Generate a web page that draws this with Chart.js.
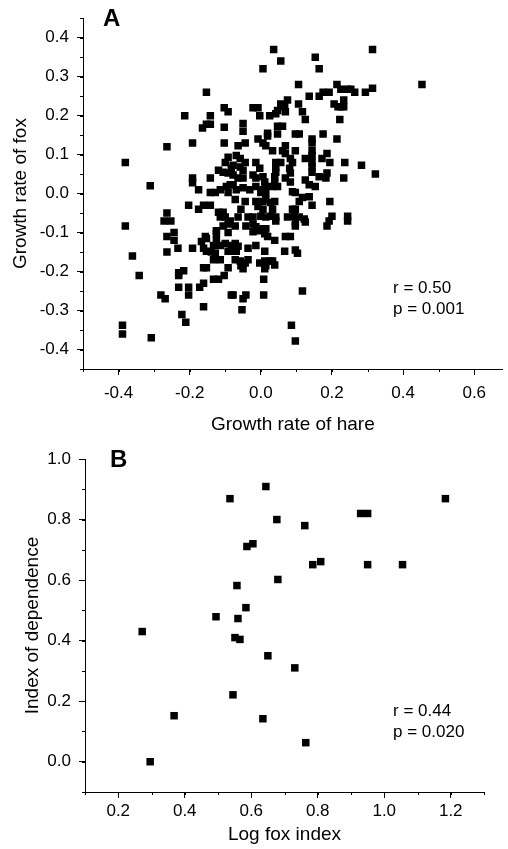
<!DOCTYPE html>
<html>
<head>
<meta charset="utf-8">
<script src="https://cdn.jsdelivr.net/npm/chart.js@4.4.1/dist/chart.umd.min.js"></script>
<style>
  html, body { margin: 0; padding: 0; background: #fff; }
  #wrap { position: relative; width: 508px; height: 849px; }
  canvas { position: absolute; left: 0; }
  #chartA { top: 0; }
  #chartB { top: 440px; }
</style>
</head>
<body>
<div id="wrap">
  <canvas id="chartA" width="508" height="440"></canvas>
  <canvas id="chartB" width="508" height="409"></canvas>
</div>
<script>
// Panel A: growth rate of hare (x) against growth rate of fox (y), [hare, fox]
const hareFoxPoints = [
  [-0.153, 0.260], [-0.214, 0.200], [-0.142, 0.200], [-0.103, 0.220], [-0.092, 0.210],
  [-0.164, 0.168], [-0.153, 0.178], [-0.142, 0.178], [-0.103, 0.170], [-0.264, 0.120],
  [-0.192, 0.130], [-0.103, 0.130], [-0.381, 0.080], [-0.311, 0.020], [-0.192, 0.040],
  [-0.192, 0.028], [-0.142, 0.040], [-0.175, 0.010], [-0.119, 0.060], [-0.106, 0.055],
  [-0.092, 0.053], [-0.083, 0.065], [-0.092, 0.093], [-0.100, 0.080], [-0.142, 0.003],
  [-0.128, 0.003], [-0.114, 0.010], [-0.097, 0.018], [-0.086, 0.023], [-0.092, 0.003],
  [-0.203, -0.030], [-0.175, -0.040], [-0.161, -0.030], [-0.142, -0.030], [-0.119, -0.048],
  [-0.106, -0.048], [-0.114, -0.060], [-0.100, -0.060], [-0.086, -0.070], [-0.264, -0.050],
  [-0.272, -0.070], [-0.253, -0.070], [-0.381, -0.083], [-0.106, -0.083], [-0.092, -0.078],
  [-0.125, -0.095], [-0.125, -0.103], [-0.092, -0.100], [-0.244, -0.100], [-0.264, -0.110],
  [-0.244, -0.120], [-0.156, -0.110], [-0.167, -0.123], [-0.153, -0.115], [-0.125, -0.120],
  [-0.133, -0.133], [-0.114, -0.133], [-0.100, -0.128], [-0.083, -0.133], [-0.092, -0.148],
  [-0.233, -0.140], [-0.192, -0.140], [-0.161, -0.140], [-0.153, -0.148], [-0.139, -0.150],
  [-0.128, -0.153], [-0.264, -0.150], [-0.133, -0.170], [-0.114, -0.170], [-0.361, -0.160],
  [-0.161, -0.190], [-0.153, -0.190], [-0.092, -0.190], [-0.231, -0.203], [-0.217, -0.198],
  [-0.231, -0.210], [-0.342, -0.210], [-0.133, -0.220], [-0.119, -0.220], [-0.103, -0.210],
  [-0.231, -0.240], [-0.203, -0.240], [-0.203, -0.260], [-0.172, -0.240], [-0.161, -0.230],
  [-0.281, -0.260], [-0.269, -0.270], [-0.083, -0.260], [-0.161, -0.290], [-0.222, -0.310],
  [-0.211, -0.330], [-0.389, -0.338], [-0.389, -0.360], [-0.308, -0.370],
  [0.036, 0.370], [0.056, 0.340], [0.006, 0.320], [0.153, 0.350], [0.164, 0.320],
  [0.106, 0.280], [0.136, 0.250], [0.164, 0.250], [0.075, 0.240], [0.056, 0.230],
  [0.067, 0.223], [0.106, 0.230], [-0.022, 0.220], [-0.008, 0.220], [-0.003, 0.200],
  [0.025, 0.200], [0.042, 0.205], [0.047, 0.213], [0.069, 0.210], [0.117, 0.210],
  [0.125, 0.190], [-0.050, 0.180], [-0.050, 0.160], [0.019, 0.155], [0.019, 0.148],
  [0.047, 0.173], [0.061, 0.173], [0.047, 0.153], [0.097, 0.153], [0.108, 0.153],
  [0.144, 0.140], [0.144, 0.130], [0.175, 0.153], [0.214, 0.140], [-0.064, 0.123],
  [-0.044, 0.130], [-0.008, 0.140], [0.006, 0.130], [0.014, 0.123], [0.033, 0.110],
  [0.061, 0.110], [0.069, 0.123], [0.097, 0.110], [0.144, 0.110], [0.144, 0.098],
  [-0.069, 0.098], [-0.058, 0.090], [-0.044, 0.080], [-0.014, 0.080], [0.042, 0.080],
  [0.056, 0.080], [0.069, 0.103], [0.083, 0.090], [0.089, 0.080], [0.125, 0.090],
  [0.144, 0.080], [0.172, 0.090], [0.186, 0.103], [0.194, 0.080], [0.236, 0.080],
  [0.283, 0.073], [-0.078, 0.073], [-0.058, 0.068], [-0.050, 0.060], [-0.003, 0.065],
  [0.042, 0.068], [0.042, 0.055], [0.081, 0.065], [0.083, 0.053], [0.144, 0.068],
  [0.144, 0.055], [0.186, 0.053], [-0.078, 0.048], [-0.064, 0.040], [-0.050, 0.040],
  [-0.022, 0.048], [-0.014, 0.040], [0.006, 0.043], [0.011, 0.030], [0.039, 0.043],
  [0.039, 0.030], [0.069, 0.040], [0.083, 0.030], [0.125, 0.035], [0.164, 0.043],
  [-0.078, 0.023], [0.089, 0.005], [0.136, 0.023],
  [0.214, 0.280], [0.225, 0.268], [0.244, 0.268], [0.253, 0.268], [0.314, 0.270],
  [0.264, 0.260], [0.294, 0.260], [0.175, 0.260], [0.192, 0.260], [0.233, 0.240],
  [0.206, 0.230], [0.217, 0.223], [0.225, 0.223], [0.233, 0.223], [0.222, 0.190],
  [0.314, 0.370], [0.453, 0.280], [0.322, 0.050], [0.233, 0.040], [0.183, 0.040],
  [-0.069, 0.010], [-0.050, 0.015], [-0.031, 0.010], [-0.014, 0.018], [0.006, 0.010],
  [0.014, 0.018], [0.000, 0.003], [0.014, 0.003], [0.033, 0.018], [0.047, 0.018],
  [0.097, 0.003], [0.117, -0.010], [0.136, -0.008], [0.153, 0.018], [0.194, -0.020],
  [-0.072, -0.015], [-0.044, -0.020], [-0.014, -0.020], [0.006, -0.020], [0.014, -0.015],
  [0.028, -0.023], [0.039, -0.020], [0.108, -0.020], [0.144, -0.030], [-0.056, -0.040],
  [-0.008, -0.033], [0.006, -0.040], [0.033, -0.040], [0.089, -0.040], [0.097, -0.040],
  [-0.064, -0.060], [-0.036, -0.060], [-0.022, -0.060], [0.000, -0.058], [0.014, -0.060],
  [0.028, -0.058], [0.042, -0.060], [0.042, -0.070], [0.075, -0.060], [0.094, -0.058],
  [0.108, -0.060], [0.122, -0.065], [0.097, -0.073], [0.125, -0.073], [0.200, -0.058],
  [0.192, -0.070], [0.186, -0.083], [0.244, -0.058], [0.244, -0.070], [-0.072, -0.083],
  [-0.042, -0.083], [-0.022, -0.078], [-0.014, -0.085], [0.006, -0.090], [0.014, -0.090],
  [0.097, -0.083], [-0.022, -0.098], [-0.003, -0.095], [0.011, -0.103], [0.019, -0.110],
  [0.039, -0.120], [0.069, -0.110], [0.083, -0.110], [-0.072, -0.128], [-0.064, -0.135],
  [-0.036, -0.140], [-0.014, -0.133], [-0.078, -0.148], [-0.069, -0.148], [0.011, -0.148],
  [0.067, -0.148], [0.097, -0.145], [0.103, -0.153], [-0.072, -0.170], [-0.058, -0.173],
  [-0.044, -0.178], [-0.036, -0.170], [-0.056, -0.185], [-0.050, -0.193], [-0.003, -0.178],
  [0.011, -0.173], [0.025, -0.173], [0.033, -0.173], [0.039, -0.183], [0.014, -0.185],
  [0.011, -0.193], [0.008, -0.220], [-0.078, -0.260], [-0.050, -0.270], [-0.042, -0.260],
  [0.008, -0.260], [0.117, -0.250], [-0.053, -0.298], [0.086, -0.338], [0.097, -0.378]
];
const foxTicksA = [-0.4, -0.3, -0.2, -0.1, 0.0, 0.1, 0.2, 0.3, 0.4];
const hareTicksA = [-0.4, -0.2, 0.0, 0.2, 0.4, 0.6];
const statsA = ['r = 0.50', 'p = 0.001'];

// Panel B: log fox index (x) against index of dependence (y), [log fox, dependence]
const foxIndexPoints = [
  [0.536, 0.869], [0.587, 0.711], [0.605, 0.720], [0.557, 0.582], [0.584, 0.509],
  [0.494, 0.479], [0.560, 0.473], [0.272, 0.430], [0.551, 0.410], [0.566, 0.404],
  [0.644, 0.909], [1.184, 0.869], [0.677, 0.800], [0.761, 0.780], [0.929, 0.820],
  [0.950, 0.820], [0.785, 0.651], [0.809, 0.661], [0.950, 0.651], [1.055, 0.651],
  [0.680, 0.602], [0.545, 0.221], [0.368, 0.152], [0.296, 0.000], [0.650, 0.350],
  [0.731, 0.310], [0.635, 0.142], [0.764, 0.063]
];
const depTicksB = [0.0, 0.2, 0.4, 0.6, 0.8, 1.0];
const logTicksB = [0.2, 0.4, 0.6, 0.8, 1.0, 1.2];
const statsB = ['r = 0.44', 'p = 0.020'];

const FONT = 'Liberation Sans, Arial, Helvetica, sans-serif';

// short minor ticks between the labelled ones
const minorTicks = {
  id: 'minorTicks',
  afterDraw(chart, args, opts) {
    const ctx = chart.ctx;
    ctx.save();
    ctx.strokeStyle = '#000';
    ctx.lineWidth = 1;
    ['x', 'y'].forEach(id => {
      const s = chart.scales[id];
      const step = opts[id];
      for (let k = Math.ceil(s.min / step - 1e-6); k * step <= s.max + 1e-6; k++) {
        const p = Math.round(s.getPixelForValue(k * step)) + 0.5;
        ctx.beginPath();
        if (id === 'x') {
          ctx.moveTo(p, s.top);
          ctx.lineTo(p, s.top + opts.len);
        } else {
          ctx.moveTo(s.right - opts.len, p);
          ctx.lineTo(s.right, p);
        }
        ctx.stroke();
      }
    });
    ctx.restore();
  }
};

// panel letter and correlation text
const panelText = {
  id: 'panelText',
  afterDraw(chart, args, opts) {
    const ctx = chart.ctx;
    ctx.save();
    ctx.fillStyle = '#000';
    ctx.textBaseline = 'alphabetic';
    ctx.font = 'bold 24px ' + FONT;
    ctx.fillText(opts.letter, opts.letterX, opts.letterY);
    ctx.font = '17px ' + FONT;
    opts.lines.forEach((t, i) => ctx.fillText(t, opts.statsX, opts.statsY + i * 21));
    ctx.restore();
  }
};

function fmt(v) {
  return v.toFixed(1);
}

function makeChart(el, cfg) {
  return new Chart(el, {
    type: 'scatter',
    data: {
      datasets: [{
        data: cfg.points.map(p => ({ x: p[0], y: p[1] })),
        pointStyle: 'rect',
        pointRadius: 5.3,
        pointHoverRadius: 5.3,
        backgroundColor: '#000',
        borderWidth: 0
      }]
    },
    options: {
      responsive: false,
      animation: false,
      devicePixelRatio: 1,
      layout: { padding: cfg.padding },
      plugins: {
        legend: { display: false },
        tooltip: { enabled: false },
        minorTicks: { x: cfg.minorX, y: cfg.minorY, len: 3 },
        panelText: cfg.text
      },
      scales: {
        x: {
          type: 'linear',
          min: cfg.xMin,
          max: cfg.xMax,
          afterBuildTicks: s => { s.ticks = cfg.xTicks.map(v => ({ value: v })); },
          afterFit: s => { s.height = cfg.xHeight; },
          border: { display: true, color: '#000', width: 1 },
          grid: { drawOnChartArea: false, color: '#000', tickLength: 6, tickWidth: 1 },
          ticks: { color: '#000', padding: cfg.xTickPad, maxRotation: 0, font: { family: FONT, size: 17 }, callback: fmt },
          title: { display: true, text: cfg.xTitle, color: '#000', padding: { bottom: cfg.xTitlePad }, font: { family: FONT, size: 19 } }
        },
        y: {
          type: 'linear',
          min: cfg.yMin,
          max: cfg.yMax,
          afterBuildTicks: s => { s.ticks = cfg.yTicks.map(v => ({ value: v })); },
          afterFit: s => { s.width = cfg.yWidth; },
          border: { display: true, color: '#000', width: 1 },
          grid: { drawOnChartArea: false, color: '#000', tickLength: 6, tickWidth: 1 },
          ticks: { color: '#000', padding: 8, font: { family: FONT, size: 17 }, callback: fmt },
          title: { display: true, text: cfg.yTitle, color: '#000', padding: { top: cfg.yTitlePad }, font: { family: FONT, size: 19 } }
        }
      }
    },
    plugins: [minorTicks, panelText]
  });
}

makeChart(document.getElementById('chartA'), {
  points: hareFoxPoints,
  xMin: -0.5, xMax: 0.68, yMin: -0.45, yMax: 0.45,
  xTicks: hareTicksA, yTicks: foxTicksA,
  minorX: 0.1, minorY: 0.05,
  xHeight: 71, yWidth: 83,
  padding: { top: 9, right: 0, left: 0, bottom: 0 },
  xTitle: 'Growth rate of hare', yTitle: 'Growth rate of fox',
  xTickPad: 8, xTitlePad: 4, yTitlePad: 9,
  text: { letter: 'A', letterX: 103, letterY: 26, lines: statsA, statsX: 393, statsY: 293 }
});

makeChart(document.getElementById('chartB'), {
  points: foxIndexPoints,
  xMin: 0.1, xMax: 1.3, yMin: -0.1, yMax: 1.0,
  xTicks: logTicksB, yTicks: depTicksB,
  minorX: 0.1, minorY: 0.1,
  xHeight: 57, yWidth: 85,
  padding: { top: 19, right: 24, left: 0, bottom: 0 },
  xTitle: 'Log fox index', yTitle: 'Index of dependence',
  xTickPad: 3, xTitlePad: 3, yTitlePad: 21,
  text: { letter: 'B', letterX: 110, letterY: 27, lines: statsB, statsX: 393, statsY: 276 }
});
</script>
</body>
</html>
